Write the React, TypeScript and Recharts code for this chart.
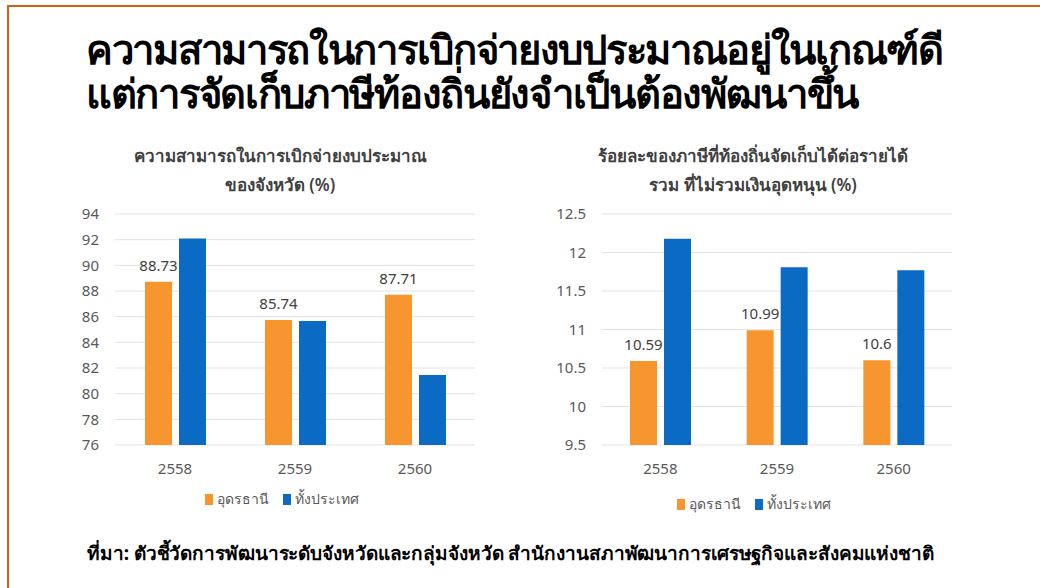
import { BarChart, Bar, XAxis, YAxis, CartesianGrid, LabelList } from 'recharts';

const years = ['2558', '2559', '2560'];
const seriesNames = ['อุดรธานี', 'ทั้งประเทศ'];
const udonBudget = [88.73, 85.74, 87.71];
const countryBudget = [92.1, 85.66, 81.45];
const udonTax = [10.59, 10.99, 10.6];
const countryTax = [12.18, 11.81, 11.77];
const budgetTicks = [76, 78, 80, 82, 84, 86, 88, 90, 92, 94];
const taxTicks = [9.5, 10, 10.5, 11, 11.5, 12, 12.5];

const ORANGE = '#F7962E';
const BLUE = '#0B6BC4';
const COLORS = [ORANGE, BLUE];
const FONT = '"Noto Sans", "DejaVu Sans", sans-serif';

const budgetData = years.map((y, i) => ({ year: y, udon: udonBudget[i], all: countryBudget[i] }));
const taxData = years.map((y, i) => ({ year: y, udon: udonTax[i], all: countryTax[i] }));

const tickStyle = { fill: '#595959', fontSize: 15, fontFamily: FONT };

interface PanelProps {
  data: any[];
  ticks: number[];
  left: number;
  width: number;
}

const Panel = ({ data, ticks, left, width }: PanelProps) => (
  <div style={{ position: 'absolute', left, top: 200 }}>
    <BarChart width={width} height={280} data={data} margin={{ top: 14, right: 10, left: 0, bottom: 0 }} barGap={7} barSize={27}>
      <CartesianGrid vertical={false} stroke="#e3e3e3" />
      <XAxis dataKey="year" axisLine={false} tickLine={false} tick={tickStyle} tickMargin={12} height={35} />
      <YAxis
        domain={[ticks[0], ticks[ticks.length - 1]]}
        ticks={ticks}
        axisLine={false}
        tickLine={false}
        tick={tickStyle}
        tickMargin={10}
        width={75}
        interval={0}
      />
      <Bar dataKey="udon" name={seriesNames[0]} fill={ORANGE} isAnimationActive={false}>
        <LabelList dataKey="udon" position="top" offset={11} style={{ fill: '#404040', fontSize: 15, fontFamily: FONT }} />
      </Bar>
      <Bar dataKey="all" name={seriesNames[1]} fill={BLUE} isAnimationActive={false} />
    </BarChart>
  </div>
);

const LegendRow = ({ left, top }: { left: number; top: number }) => (
  <div style={{ position: 'absolute', left, top, display: 'flex', alignItems: 'center', fontFamily: FONT, fontSize: 14, color: '#595959' }}>
    {seriesNames.map((n, i) => (
      <div key={n} style={{ display: 'flex', alignItems: 'center', marginRight: 14 }}>
        <span style={{ width: 8, height: 11, background: COLORS[i], marginRight: 4, display: 'inline-block' }} />
        <span>{n}</span>
      </div>
    ))}
  </div>
);

const chartTitle = {
  position: 'absolute' as const,
  textAlign: 'center' as const,
  color: '#404040',
  fontFamily: FONT,
  fontSize: 17,
  fontWeight: 600,
  lineHeight: '29px',
};

export default function App() {
  return (
    <div style={{ position: 'absolute', left: 0, top: 0, width: 1040, height: 588, background: '#fff', overflow: 'hidden' }}>
      <div style={{ position: 'absolute', left: 7, top: 5, right: 0, bottom: 0, borderTop: '2px solid #D2601A', borderLeft: '2px solid #D2601A' }} />
      <div
        style={{
          position: 'absolute',
          left: 86,
          top: 27,
          fontFamily: FONT,
          fontSize: 40,
          fontWeight: 700,
          lineHeight: '44px',
          color: '#000',
          letterSpacing: -1.3,
        }}
      >
        <div>ความสามารถในการเบิกจ่ายงบประมาณอยู่ในเกณฑ์ดี</div>
        <div>แต่การจัดเก็บภาษีท้องถิ่นยังจำเป็นต้องพัฒนาขึ้น</div>
      </div>
      <div style={{ ...chartTitle, left: 80, width: 400, top: 141 }}>
        <div>ความสามารถในการเบิกจ่ายงบประมาณ</div>
        <div>ของจังหวัด (%)</div>
      </div>
      <div style={{ ...chartTitle, left: 553, width: 400, top: 141 }}>
        <div>ร้อยละของภาษีที่ท้องถิ่นจัดเก็บได้ต่อรายได้</div>
        <div>รวม ที่ไม่รวมเงินอุดหนุน (%)</div>
      </div>
      <Panel data={budgetData} ticks={budgetTicks} left={40} width={445} />
      <Panel data={taxData} ticks={taxTicks} left={527} width={435} />
      <LegendRow left={205} top={488} />
      <LegendRow left={677} top={493} />
      <div
        style={{
          position: 'absolute',
          left: 87,
          top: 538,
          fontFamily: FONT,
          fontSize: 19,
          fontWeight: 700,
          color: '#000',
          letterSpacing: -0.1,
        }}
      >
        ที่มา: ตัวชี้วัดการพัฒนาระดับจังหวัดและกลุ่มจังหวัด สำนักงานสภาพัฒนาการเศรษฐกิจและสังคมแห่งชาติ
      </div>
    </div>
  );
}
